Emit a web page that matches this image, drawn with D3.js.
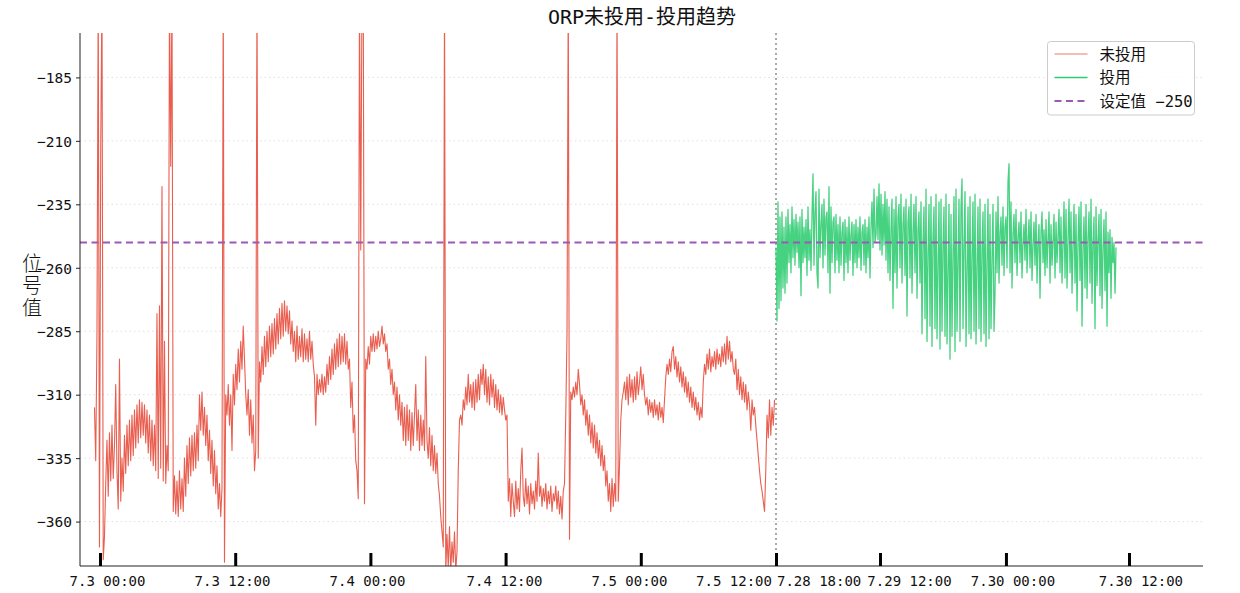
<!DOCTYPE html>
<html>
<head>
<meta charset="utf-8">
<script src="https://cdn.jsdelivr.net/npm/d3@7"></script>
<style>
  html, body { margin: 0; padding: 0; background: #fff; }
  svg { display: block; }
</style>
</head>
<body>
<svg id="chart" width="1240" height="593"></svg>
<script>
// ---------------- data ----------------
const title = "ORP未投用-投用趋势";
const yLabel = "位号值";
const seriesNames = ["未投用", "投用", "设定值 −250"];
const setpoint = -250;
const breakPos = 60;              // boundary between the two periods (axis units, hours)
const yTicks = [-360, -335, -310, -285, -260, -235, -210, -185];
const xTickPos = [0, 12, 24, 36, 48, 60, 69.23, 80.41, 91.33];
const xLabels = ["7.3 00:00", "7.3 12:00", "7.4 00:00", "7.4 12:00", "7.5 00:00",
                 "7.5 12:00", "7.28 18:00", "7.29 12:00", "7.30 00:00", "7.30 12:00"];
const xLabelPos = [0.67, 11.76, 23.74, 35.9, 47.0, 59.64, 60.09, 71.85, 81.03, 92.39];

// 未投用 (uniformly sampled from redStart to redEnd)
const redStart = -0.49, redEnd = 59.87;
const redValues = [
-315,-336,-286,-150,-370,-212,-150,-375,
-366,-345,-328,-350,-325,-344,-322,-343,
-330,-306,-340,-355,-296,-352,-335,-348,
-326,-341,-322,-338,-320,-336,-318,-334,
-316,-331,-314,-329,-312,-327,-313,-326,
-314,-329,-316,-333,-318,-336,-320,-338,
-322,-340,-278,-343,-275,-339,-228,-344,
-289,-345,-330,-340,-150,-220,-150,-356,
-342,-357,-344,-358,-340,-355,-343,-356,
-335,-350,-330,-345,-327,-342,-326,-340,
-325,-339,-322,-336,-310,-324,-309,-326,
-315,-330,-318,-336,-324,-341,-328,-346,
-332,-349,-338,-355,-345,-358,-347,-150,
-376,-310,-318,-306,-322,-310,-332,-302,
-314,-298,-308,-292,-305,-289,-300,-283,
-296,-310,-318,-308,-326,-312,-329,-318,
-340,-332,-150,-335,-297,-305,-291,-302,
-287,-299,-285,-297,-283,-295,-282,-294,
-280,-292,-278,-290,-276,-288,-274,-287,
-273,-285,-275,-286,-277,-290,-281,-293,
-285,-297,-283,-296,-287,-295,-284,-297,
-286,-296,-288,-297,-285,-296,-289,-298,
-303,-322,-302,-310,-304,-309,-302,-310,
-303,-309,-298,-306,-295,-304,-292,-302,
-290,-300,-288,-299,-286,-298,-287,-297,
-286,-298,-289,-300,-296,-315,-305,-325,
-318,-336,-340,-351,-150,-253,-150,-150,
-353,-296,-300,-291,-298,-287,-293,-286,
-293,-287,-292,-285,-291,-288,-283,-290,
-286,-293,-290,-300,-296,-306,-300,-310,
-305,-316,-307,-320,-310,-322,-313,-328,
-315,-330,-314,-328,-316,-332,-317,-330,
-318,-306,-328,-316,-332,-318,-330,-320,
-332,-295,-328,-335,-323,-338,-326,-340,
-330,-341,-333,-345,-350,-358,-364,-370,
-150,-380,-365,-378,-362,-380,-368,-376,
-364,-379,-372,-340,-320,-318,-322,-312,
-316,-307,-314,-302,-313,-306,-315,-305,
-316,-304,-313,-302,-312,-300,-306,-298,
-310,-300,-313,-303,-314,-302,-311,-304,
-315,-306,-316,-308,-317,-310,-318,-311,
-316,-320,-318,-352,-343,-358,-345,-352,
-358,-344,-355,-347,-356,-340,-331,-350,
-354,-343,-353,-346,-357,-345,-353,-348,
-355,-344,-352,-333,-350,-346,-354,-347,
-352,-345,-355,-348,-353,-346,-356,-349,
-352,-346,-355,-348,-357,-350,-359,-348,
-345,-318,-286,-150,-367,-309,-312,-307,
-311,-305,-310,-300,-306,-314,-310,-318,
-312,-322,-316,-326,-318,-329,-321,-331,
-322,-333,-325,-335,-328,-338,-330,-340,
-334,-346,-340,-352,-345,-356,-343,-354,
-345,-352,-150,-352,-338,-320,-312,-309,
-305,-312,-303,-314,-302,-311,-304,-313,
-303,-312,-301,-310,-305,-299,-308,-302,
-310,-314,-311,-318,-312,-317,-313,-319,
-312,-318,-314,-320,-313,-319,-315,-321,
-312,-303,-298,-302,-296,-301,-293,-291,
-300,-295,-303,-297,-305,-299,-307,-301,
-309,-303,-311,-305,-313,-307,-315,-309,
-316,-311,-318,-313,-320,-315,-319,-305,
-298,-302,-294,-300,-292,-301,-295,-299,
-293,-300,-292,-298,-294,-299,-291,-297,
-290,-298,-287,-296,-289,-297,-293,-300,
-302,-296,-308,-300,-310,-303,-312,-305,
-313,-306,-316,-309,-314,-324,-312,-318,
-315,-322,-328,-334,-340,-345,-348,-352,
-356,-340,-318,-327,-312,-326,-315,-322,
-312
];

// 投用 (uniformly sampled from greenStart to greenEnd)
const greenStart = 60.0, greenEnd = 90.18;
const greenValues = [
-252,-281,-234,-276,-240,-273,-238,-268,-244,-270,
-240,-266,-237,-258,-243,-262,-236,-256,-241,-259,
-239,-254,-242,-260,-240,-271,-237,-258,-244,-256,
-241,-263,-236,-257,-245,-261,-240,-223,-259,-238,
-230,-262,-268,-229,-256,-243,-235,-260,-233,-255,
-240,-238,-262,-228,-270,-236,-258,-242,-240,-262,
-239,-257,-243,-262,-240,-259,-246,-242,-265,-241,
-258,-244,-262,-240,-257,-247,-242,-263,-243,-258,
-241,-260,-244,-256,-240,-261,-246,-243,-259,-241,
-262,-244,-256,-240,-264,-244,-234,-252,-229,-250,
-247,-232,-249,-227,-253,-231,-255,-235,-251,-230,
-257,-233,-262,-236,-265,-245,-233,-276,-237,-262,
-232,-268,-240,-235,-260,-231,-266,-243,-236,-263,
-233,-279,-242,-236,-264,-231,-270,-246,-235,-262,
-232,-272,-245,-238,-266,-234,-286,-250,-236,-280,
-229,-289,-255,-235,-283,-232,-291,-248,-236,-284,
-231,-288,-260,-234,-292,-233,-285,-252,-236,-287,
-231,-290,-262,-235,-296,-239,-287,-255,-232,-293,
-229,-285,-258,-233,-289,-236,-225,-284,-250,-230,
-291,-262,-236,-286,-232,-288,-256,-234,-285,-231,
-290,-260,-236,-284,-233,-289,-253,-238,-286,-235,
-291,-258,-233,-288,-239,-284,-257,-235,-285,-270,
-238,-262,-232,-266,-246,-240,-259,-236,-263,-244,
-240,-260,-226,-219,-262,-234,-268,-247,-239,-258,
-237,-263,-248,-242,-258,-238,-264,-250,-243,-257,
-237,-262,-249,-241,-260,-238,-265,-251,-242,-259,
-239,-266,-250,-243,-272,-246,-238,-258,-245,-263,
-241,-260,-249,-238,-266,-243,-259,-250,-239,-264,
-242,-258,-248,-237,-262,-240,-266,-251,-234,-264,
-237,-268,-249,-233,-262,-238,-270,-252,-235,-266,
-239,-277,-250,-236,-265,-234,-283,-252,-240,-268,
-235,-272,-248,-238,-266,-233,-274,-250,-240,-284,
-236,-267,-249,-239,-271,-237,-276,-252,-241,-269,
-238,-283,-246,-262,-245,-272,-248,-258,-250,-270,
-252
];

// ---------------- chart ----------------
const W = 1240, H = 593;
const M = { left: 80, right: 37, top: 33, bottom: 27 };
const svg = d3.select("#chart");
const x = d3.scaleLinear().domain([-1.775, 97.9]).range([M.left, W - M.right]);
const y = d3.scaleLinear().domain([-377.5, -167.5]).range([H - M.bottom, M.top]);

const latinFont = "'DejaVu Sans Mono', 'Noto Sans CJK SC', sans-serif";

svg.append("defs").append("clipPath").attr("id", "plotClip")
  .append("rect").attr("x", M.left).attr("y", M.top)
  .attr("width", W - M.left - M.right).attr("height", H - M.top - M.bottom);

// grid
svg.append("g").selectAll("line").data(yTicks).join("line")
  .attr("x1", M.left).attr("x2", W - M.right)
  .attr("y1", d => y(d)).attr("y2", d => y(d))
  .attr("stroke", "#d8d8d8").attr("stroke-width", 0.8).attr("stroke-dasharray", "1.5,3");

const plot = svg.append("g").attr("clip-path", "url(#plotClip)");

// break line
plot.append("line")
  .attr("x1", x(breakPos)).attr("x2", x(breakPos))
  .attr("y1", M.top).attr("y2", H - M.bottom)
  .attr("stroke", "#aaaaaa").attr("stroke-width", 2).attr("stroke-dasharray", "2,3");

const redStep = (redEnd - redStart) / (redValues.length - 1);
const greenStep = (greenEnd - greenStart) / (greenValues.length - 1);

plot.append("path").datum(redValues)
  .attr("fill", "none").attr("stroke", "#e74c3c").attr("stroke-opacity", 0.9)
  .attr("stroke-width", 1.1).attr("stroke-linejoin", "round")
  .attr("d", d3.line().x((d, i) => x(redStart + i * redStep)).y(d => y(d)));

plot.append("path").datum(greenValues)
  .attr("fill", "none").attr("stroke", "#2ecc71").attr("stroke-opacity", 0.88)
  .attr("stroke-width", 1.3).attr("stroke-linejoin", "round")
  .attr("d", d3.line().x((d, i) => x(greenStart + i * greenStep)).y(d => y(d)));

// setpoint
plot.append("line")
  .attr("x1", M.left).attr("x2", W - M.right)
  .attr("y1", y(setpoint)).attr("y2", y(setpoint))
  .attr("stroke", "#9b59b6").attr("stroke-width", 2).attr("stroke-dasharray", "7,4.5");

// y axis
const yAxis = svg.append("g").attr("transform", `translate(${M.left},0)`)
  .call(d3.axisLeft(y).tickValues(yTicks).tickSize(4).tickFormat(d => d3.format("")(d).replace("-", "−")));
yAxis.select(".domain").attr("stroke", "#222").attr("d", `M0,${M.top}V${H - M.bottom}`);
yAxis.selectAll(".tick line").attr("stroke", "#222");
yAxis.selectAll(".tick text").attr("font-family", latinFont).attr("font-size", 14.5)
  .attr("fill", "#111").attr("x", -8).attr("dy", "0.36em");

// x axis
const xAxis = svg.append("g").attr("transform", `translate(0,${H - M.bottom})`)
  .call(d3.axisBottom(x).tickValues(xTickPos).tickSize(-13).tickFormat(""));
xAxis.select(".domain").attr("stroke", "#222").attr("d", `M${M.left},0H${W - M.right}`);
xAxis.selectAll(".tick line").attr("stroke", "#000").attr("stroke-width", 3);

svg.append("g").selectAll("text").data(xLabels).join("text")
  .attr("x", (d, i) => x(xLabelPos[i]))
  .attr("y", H - M.bottom + 20)
  .attr("text-anchor", (d, i) => i === 5 ? "end" : (i === 6 ? "start" : "middle"))
  .attr("font-family", latinFont).attr("font-size", 14).attr("fill", "#111")
  .text(d => d);

// title
svg.append("text").attr("x", (M.left + W - M.right) / 2 + 0.5).attr("y", 24)
  .attr("text-anchor", "middle").attr("font-family", latinFont)
  .attr("font-size", 20).attr("fill", "#111").text(title);

// y label (stacked characters)
svg.append("g").selectAll("text").data(Array.from(yLabel)).join("text")
  .attr("x", 32).attr("y", (d, i) => 271 + i * 22)
  .attr("text-anchor", "middle").attr("font-family", "'Noto Sans CJK SC', sans-serif")
  .attr("font-weight", 300).attr("font-size", 20).attr("fill", "#111").text(d => d);

// legend
const lg = svg.append("g").attr("transform", "translate(1047.5,41.5)");
lg.append("rect").attr("width", 147).attr("height", 73.5).attr("rx", 3)
  .attr("fill", "#fff").attr("fill-opacity", 0.85).attr("stroke", "#cccccc");
const legendColors = ["#e74c3c", "#2ecc71", "#9b59b6"];
const legendWidths = [1, 1.5, 2];
const legendOpacity = [0.75, 1, 1];
seriesNames.forEach((name, i) => {
  const yy = 12.5 + i * 23.5;
  const ln = lg.append("line").attr("x1", 7).attr("x2", 40).attr("y1", yy).attr("y2", yy)
    .style("stroke", legendColors[i]).style("stroke-width", legendWidths[i])
    .style("stroke-opacity", legendOpacity[i]);
  if (i === 2) ln.style("stroke-dasharray", "7,4.5");
  lg.append("text").attr("x", 52).attr("y", yy + 5.5)
    .attr("font-family", latinFont).attr("font-size", 15.5).attr("fill", "#111").text(name);
});
</script>
</body>
</html>
